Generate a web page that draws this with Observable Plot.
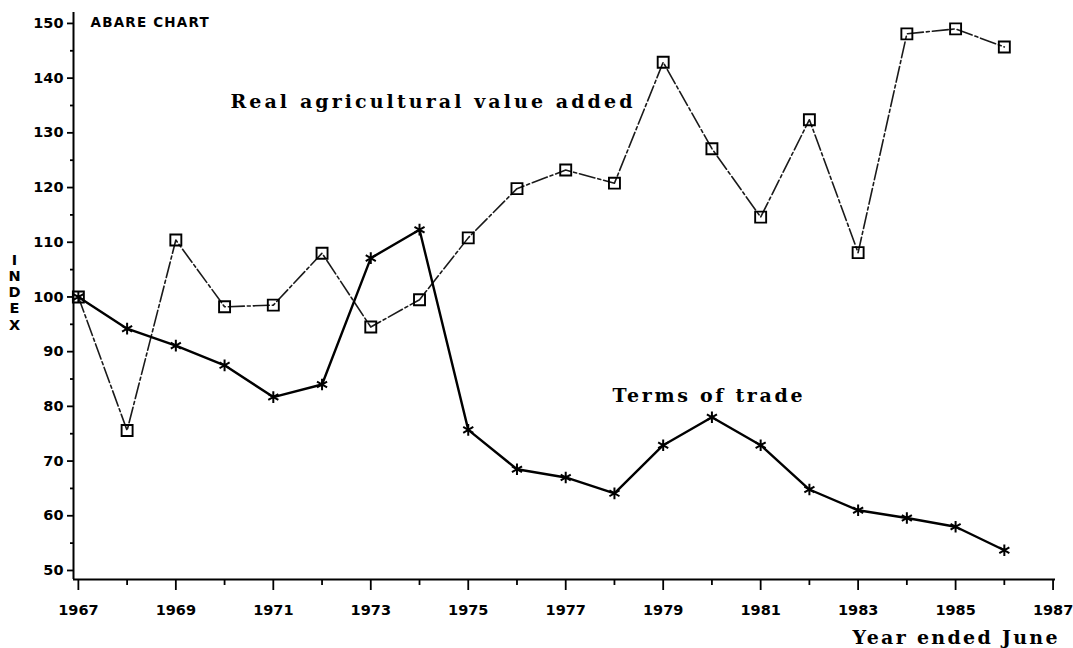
<!DOCTYPE html>
<html>
<head>
<meta charset="utf-8">
<script src="https://cdn.jsdelivr.net/npm/d3@7"></script>
<script src="https://cdn.jsdelivr.net/npm/@observablehq/plot@0.6"></script>
<style>
  html, body { margin: 0; padding: 0; background: #fff; }
  #chart svg { display: block; }
  g[aria-label="x-axis tick label"] text,
  g[aria-label="y-axis tick label"] text { font-weight: bold; }
</style>
</head>
<body>
<div id="chart"></div>
<script>
// ---- data ----
const years = [1967, 1968, 1969, 1970, 1971, 1972, 1973, 1974, 1975, 1976,
               1977, 1978, 1979, 1980, 1981, 1982, 1983, 1984, 1985, 1986];
const realValueAdded = [100, 75.6, 110.4, 98.2, 98.5, 108.0, 94.5, 99.5, 110.8, 119.8,
                        123.2, 120.8, 142.9, 127.1, 114.6, 132.4, 108.1, 148.1, 149.0, 145.7];
const termsOfTrade = [100, 94.2, 91.1, 87.5, 81.7, 84.0, 107.1, 112.3, 75.7, 68.5,
                      67.0, 64.1, 72.9, 78.0, 72.9, 64.8, 61.0, 59.6, 58.0, 53.7];
const xMajorTicks = [1967, 1969, 1971, 1973, 1975, 1977, 1979, 1981, 1983, 1985, 1987];
const xMinorTicks = [1968, 1970, 1972, 1974, 1976, 1978, 1980, 1982, 1984, 1986];
const yMajorTicks = [50, 60, 70, 80, 90, 100, 110, 120, 130, 140, 150];
const yMinorTicks = [55, 65, 75, 85, 95, 105, 115, 125, 135, 145];
const xDomain = [1966.9, 1987.05];
const yDomain = [48.35, 152];
const seriesLabels = [
  {text: "Real agricultural value added", year: 1970.12, value: 135.7},
  {text: "Terms of trade", year: 1977.96, value: 82.0}
];
const labelWidths = {"Real agricultural value added": 402, "Terms of trade": 190, "Year ended June": 205};

const realRows = years.map((y, i) => ({year: y, value: realValueAdded[i]}));
const totRows = years.map((y, i) => ({year: y, value: termsOfTrade[i]}));

const serif = "DejaVu Serif";

const chart = Plot.plot({
  width: 1073,
  height: 648,
  marginLeft: 73,
  marginRight: 18,
  marginTop: 12,
  marginBottom: 69,
  x: {domain: xDomain},
  y: {domain: yDomain},
  style: {fontFamily: "DejaVu Sans", background: "white", color: "black", overflow: "visible"},
  marks: [
    // axes lines
    Plot.ruleX([xDomain[0]], {stroke: "black", strokeWidth: 2}),
    Plot.ruleY([yDomain[0]], {stroke: "black", strokeWidth: 2}),
    // y axis ticks
    Plot.axisY(yMajorTicks, {tickSize: 6, tickPadding: 4, fontSize: 14.5, fontWeight: "bold",
      label: null, strokeWidth: 1.8, tickFormat: d => String(d)}),
    Plot.axisY(yMinorTicks, {tickSize: 3, label: null, strokeWidth: 1.8, tickFormat: () => ""}),
    // x axis ticks
    Plot.axisX(xMajorTicks, {tickSize: 11, tickPadding: 14, fontSize: 14.5, fontWeight: "bold",
      label: null, strokeWidth: 1.8, tickFormat: d => String(d)}),
    Plot.axisX(xMinorTicks, {tickSize: 6, label: null, strokeWidth: 1.8, tickFormat: () => ""}),
    // series lines
    Plot.line(realRows, {x: "year", y: "value", stroke: "#1a1a1a", strokeWidth: 1.6,
      strokeDasharray: "16,3,3,3"}),
    Plot.line(totRows, {x: "year", y: "value", stroke: "black", strokeWidth: 2.4}),
    // markers
    Plot.dot(realRows, {x: "year", y: "value", symbol: "square", r: 6.2, fill: "none",
      stroke: "black", strokeWidth: 1.9}),
    Plot.dot(totRows, {x: "year", y: "value", symbol: "asterisk", r: 5.5,
      stroke: "black", strokeWidth: 2}),
    // series labels
    Plot.text(seriesLabels, {x: "year", y: "value", text: "text", textAnchor: "start",
      fontFamily: serif, fontSize: 19, fontWeight: 600, fill: "black"}),
    // annotations
    Plot.text(["ABARE CHART"], {frameAnchor: "top-left", textAnchor: "start", lineAnchor: "top",
      dx: 17, dy: 5, fontSize: 13.5, fontWeight: "bold", fill: "black",
      fontFamily: "DejaVu Sans"}),
    Plot.text(["I\nN\nD\nE\nX"], {frameAnchor: "left", textAnchor: "middle", dx: -59, dy: -4,
      fontSize: 14.5, fontWeight: "bold", lineHeight: 1.12, fill: "black"}),
    Plot.text(["Year ended June"], {frameAnchor: "bottom-right", textAnchor: "end", dx: 2, dy: 64,
      fontFamily: serif, fontSize: 19, fontWeight: 600, fill: "black"})
  ]
});

chart.querySelectorAll("text").forEach(t => {
  const s = t.textContent;
  if (s === "ABARE CHART") t.setAttribute("letter-spacing", "1.2");
  if (labelWidths[s]) {
    t.setAttribute("textLength", labelWidths[s]);
    t.setAttribute("lengthAdjust", "spacing");
  }
});

document.getElementById("chart").appendChild(chart);
</script>
</body>
</html>
